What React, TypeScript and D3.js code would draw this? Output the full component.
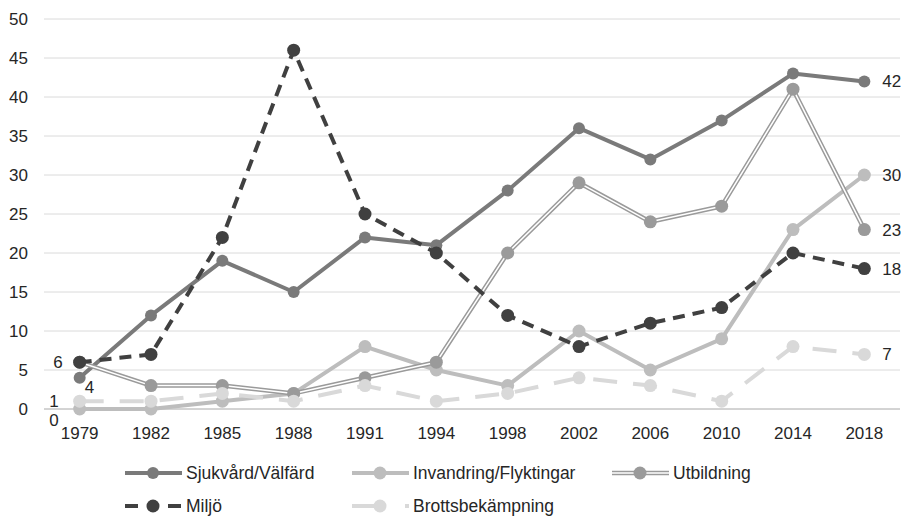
import React from 'react';
import * as d3 from 'd3';

const years = ['1979', '1982', '1985', '1988', '1991', '1994', '1998', '2002', '2006', '2010', '2014', '2018'];
const sjukvard = [4, 12, 19, 15, 22, 21, 28, 36, 32, 37, 43, 42];
const invandring = [0, 0, 1, 2, 8, 5, 3, 10, 5, 9, 23, 30];
const utbildning = [6, 3, 3, 2, 4, 6, 20, 29, 24, 26, 41, 23];
const miljo = [6, 7, 22, 46, 25, 20, 12, 8, 11, 13, 20, 18];
const brott = [1, 1, 2, 1, 3, 1, 2, 4, 3, 1, 8, 7];
const yTicks = [0, 5, 10, 15, 20, 25, 30, 35, 40, 45, 50];

type Series = {
  name: string;
  values: number[];
  color: string;
  width: number;
  dash?: string;
  legendDash?: string;
  double?: boolean;
  r: number;
};

const series: Series[] = [
  { name: 'Sjukvård/Välfärd', values: sjukvard, color: '#7a7a7a', width: 4, r: 6 },
  { name: 'Invandring/Flyktingar', values: invandring, color: '#bdbdbd', width: 4, r: 6.5 },
  { name: 'Utbildning', values: utbildning, color: '#9a9a9a', width: 4.5, double: true, r: 6.5 },
  { name: 'Miljö', values: miljo, color: '#404040', width: 4, dash: '12,8', legendDash: '13,30', r: 6.5 },
  { name: 'Brottsbekämpning', values: brott, color: '#d9d9d9', width: 4, dash: '24,16', legendDash: '24,29', r: 6.5 },
];

const W = 901;
const H = 516;
const font = "'Liberation Sans', Arial, sans-serif";

export default function App() {
  const x = d3.scalePoint<string>().domain(years).range([44, 900]).padding(0.5);
  const y = d3.scaleLinear().domain([0, 50]).range([409, 19]);
  const line = d3
    .line<number>()
    .x((_, i) => x(years[i]) as number)
    .y((d) => y(d));

  const last = years[years.length - 1];

  // legend layout
  const legendCols = [125, 352, 612];
  const legendRows = [473, 506];
  const legendLen = 57;

  return (
    <svg width={W} height={H} style={{ position: 'absolute', left: 0, top: 0 }} fontFamily={font}>
      <rect width={W} height={H} fill="#fff" />
      {yTicks.map((t) => (
        <g key={t}>
          <line x1={44} x2={900} y1={y(t)} y2={y(t)} stroke={t === 0 ? '#a8a8a8' : '#dadada'} strokeWidth={1} />
          <text x={28} y={y(t)} dy="0.35em" textAnchor="end" fontSize={17} fill="#262626">
            {t}
          </text>
        </g>
      ))}
      {years.map((yr) => (
        <text key={yr} x={x(yr)} y={439} textAnchor="middle" fontSize={17} fill="#262626">
          {yr}
        </text>
      ))}

      {series.map((s) => (
        <g key={s.name}>
          <path d={line(s.values) ?? ''} fill="none" stroke={s.color} strokeWidth={s.width} strokeDasharray={s.dash} strokeLinejoin="round" />
          {s.double && <path d={line(s.values) ?? ''} fill="none" stroke="#fff" strokeWidth={1.5} strokeLinejoin="round" />}
          {s.values.map((v, i) => (
            <circle key={i} cx={x(years[i])} cy={y(v)} r={s.r} fill={s.color} />
          ))}
        </g>
      ))}

      {/* end labels */}
      {series.map((s) => (
        <text key={s.name} x={(x(last) as number) + 18} y={y(s.values[s.values.length - 1])} dy="0.35em" fontSize={17} fill="#262626">
          {s.values[s.values.length - 1]}
        </text>
      ))}

      {/* start labels */}
      <text x={(x(years[0]) as number) - 17} y={y(miljo[0])} dy="0.35em" textAnchor="end" fontSize={17} fill="#262626">
        {miljo[0]}
      </text>
      <text x={(x(years[0]) as number) + 5} y={y(sjukvard[0]) + 15} textAnchor="start" fontSize={17} fill="#262626">
        {sjukvard[0]}
      </text>
      <text x={(x(years[0]) as number) - 21} y={y(brott[0])} dy="0.35em" textAnchor="end" fontSize={17} fill="#262626">
        {brott[0]}
      </text>
      <text x={(x(years[0]) as number) - 21} y={y(invandring[0]) + 17} textAnchor="end" fontSize={17} fill="#262626">
        {invandring[0]}
      </text>

      {/* legend */}
      {series.map((s, i) => {
        const lx = legendCols[i % 3];
        const ly = legendRows[Math.floor(i / 3)];
        return (
          <g key={s.name}>
            <line x1={lx} x2={lx + legendLen} y1={ly} y2={ly} stroke={s.color} strokeWidth={s.width} strokeDasharray={s.legendDash} />
            {s.double && <line x1={lx} x2={lx + legendLen} y1={ly} y2={ly} stroke="#fff" strokeWidth={1.5} />}
            <circle cx={lx + 28} cy={ly} r={s.r} fill={s.color} />
            <text x={lx + legendLen + 4} y={ly} dy="0.35em" fontSize={17.5} fill="#262626">
              {s.name}
            </text>
          </g>
        );
      })}
    </svg>
  );
}
